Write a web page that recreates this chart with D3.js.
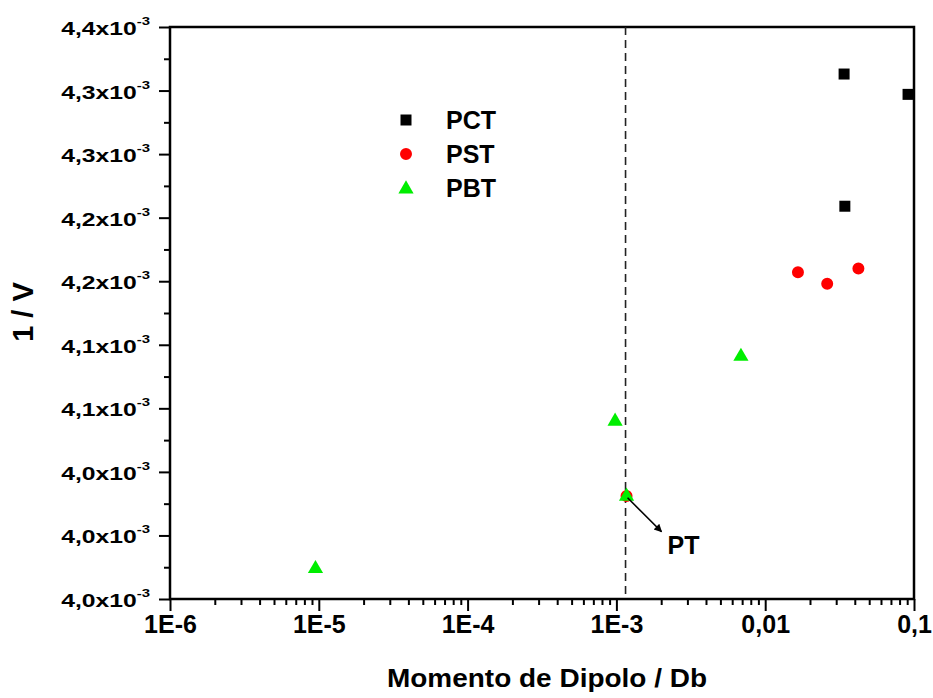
<!DOCTYPE html>
<html>
<head>
<meta charset="utf-8">
<script src="https://cdn.jsdelivr.net/npm/d3@7"></script>
<style>
  html, body { margin: 0; padding: 0; background: #fff; }
  svg { display: block; font-family: "Liberation Sans", Arial, sans-serif; font-weight: bold; }
</style>
</head>
<body>
<svg id="chart" width="933" height="698"></svg>
<script>
// ---- data ----
const seriesNames = ["PCT", "PST", "PBT"];
const seriesColors = ["#000000", "#ff0000", "#00ee00"];
const pctX = [0.0339, 0.0912, 0.0343];
const pctY = [4.363e-3, 4.347e-3, 4.259e-3];
const pstX = [0.00117, 0.0166, 0.0261, 0.0423];
const pstY = [4.031e-3, 4.207e-3, 4.198e-3, 4.210e-3];
const pbtX = [9.5e-6, 0.00098, 0.00117, 0.00687];
const pbtY = [3.975e-3, 4.091e-3, 4.032e-3, 4.142e-3];
const ptX = 0.00117;           // reference point PT
const ptY = 4.032e-3;
const xTickValues = [1e-6, 1e-5, 1e-4, 1e-3, 0.01, 0.1];
const xTickLabels = ["1E-6", "1E-5", "1E-4", "1E-3", "0,01", "0,1"];
const yTickValues = [3.95e-3, 4.00e-3, 4.05e-3, 4.10e-3, 4.15e-3, 4.20e-3, 4.25e-3, 4.30e-3, 4.35e-3, 4.40e-3];
const yTickLabels = ["4,0", "4,0", "4,0", "4,1", "4,1", "4,2", "4,2", "4,3", "4,3", "4,4"];
const yMinorValues = [3.975e-3, 4.025e-3, 4.075e-3, 4.125e-3, 4.175e-3, 4.225e-3, 4.275e-3, 4.325e-3, 4.375e-3];
const xTitle = "Momento de Dipolo / Db";
const yTitle = "1 / V";

// ---- layout ----
const svg = d3.select("#chart");
const L = 170, R = 914, T = 27, B = 599;
const x = d3.scaleLog().domain([1e-6, 0.1]).range([L, R]);
const y = d3.scaleLinear().domain([3.95e-3, 4.40e-3]).range([B, T]);

// x minor ticks (2..9 per decade)
const xMinor = [];
for (let e = -6; e < -1; e++) for (let k = 2; k <= 9; k++) xMinor.push(k * Math.pow(10, e));

// minor ticks
svg.append("g").attr("transform", `translate(0,${B})`)
  .call(d3.axisBottom(x).tickValues(xMinor).tickSize(6).tickFormat(""))
  .call(g => g.select(".domain").remove())
  .selectAll("line").attr("stroke", "#000").attr("stroke-width", 2);
svg.append("g").attr("transform", `translate(${L},0)`)
  .call(d3.axisLeft(y).tickValues(yMinorValues).tickSize(6).tickFormat(""))
  .call(g => g.select(".domain").remove())
  .selectAll("line").attr("stroke", "#000").attr("stroke-width", 2);

// major x axis
const gx = svg.append("g").attr("transform", `translate(0,${B})`)
  .call(d3.axisBottom(x).tickValues(xTickValues).tickSize(12)
    .tickFormat((d, i) => xTickLabels[i]));
gx.select(".domain").remove();
gx.selectAll("line").attr("stroke", "#000").attr("stroke-width", 2);
gx.selectAll("text").attr("fill", "#000").attr("font-size", 25).attr("font-weight", "bold")
  .attr("font-family", "Liberation Sans, Arial, sans-serif").attr("y", 16).attr("dy", "0.71em");

// major y axis
const gy = svg.append("g").attr("transform", `translate(${L},0)`)
  .call(d3.axisLeft(y).tickValues(yTickValues).tickSize(11).tickFormat(""));
gy.select(".domain").remove();
gy.selectAll("line").attr("stroke", "#000").attr("stroke-width", 2);

// y tick labels with superscript
const yl = svg.append("g");
yTickValues.forEach((v, i) => {
  const g = yl.append("g").attr("transform", `translate(${L - 20},${y(v) + 8}) scale(1.3,1)`);
  const t = g.append("text").attr("text-anchor", "end").attr("font-size", 19).attr("fill", "#000");
  t.append("tspan").text(yTickLabels[i] + "x10");
  t.append("tspan").attr("font-size", 11.5).attr("dy", -10).text("-3");
});

// frame
svg.append("rect").attr("x", L).attr("y", T).attr("width", R - L).attr("height", B - T)
  .attr("fill", "none").attr("stroke", "#000").attr("stroke-width", 2.5);

// dashed reference line
svg.append("line").attr("x1", x(ptX) - 1).attr("x2", x(ptX) - 1).attr("y1", T).attr("y2", B)
  .attr("stroke", "#222").attr("stroke-width", 1.6).attr("stroke-dasharray", "8,5");

// markers
const sym = [d3.symbolSquare, d3.symbolCircle, d3.symbolTriangle];
const symSize = [121, 113, 100];
const data = [
  pctX.map((d, i) => ({ x: d, y: pctY[i] })),
  pstX.map((d, i) => ({ x: d, y: pstY[i] })),
  pbtX.map((d, i) => ({ x: d, y: pbtY[i] }))
];
data.forEach((arr, s) => {
  svg.append("g").selectAll("path").data(arr).join("path")
    .attr("d", d3.symbol().type(sym[s]).size(symSize[s]))
    .attr("transform", d => `translate(${x(d.x)},${y(d.y) + (s === 2 ? 1.5 : 0)})`)
    .attr("fill", seriesColors[s]);
});

// PT annotation arrow
const defs = svg.append("defs");
defs.append("marker").attr("id", "arr").attr("viewBox", "0 0 10 10").attr("refX", 9).attr("refY", 5)
  .attr("markerWidth", 13).attr("markerHeight", 8).attr("markerUnits", "userSpaceOnUse").attr("orient", "auto")
  .append("path").attr("d", "M0,0 L10,5 L0,10 Z").attr("fill", "#000");
const px = x(ptX), py = y(ptY);
svg.append("line").attr("x1", px + 1).attr("y1", py + 3).attr("x2", px + 35).attr("y2", py + 37)
  .attr("stroke", "#000").attr("stroke-width", 1.6).attr("marker-end", "url(#arr)");
svg.append("text").attr("x", px + 41).attr("y", py + 59).attr("font-size", 25).attr("fill", "#000").text("PT");

// legend
const lx = 406, ly = [120, 154, 188];
seriesNames.forEach((n, i) => {
  svg.append("path").attr("d", d3.symbol().type(sym[i]).size(symSize[i]))
    .attr("transform", `translate(${lx},${ly[i] + (i === 2 ? 1 : 0)})`).attr("fill", seriesColors[i]);
  svg.append("text").attr("x", lx + 40).attr("y", ly[i] + 9).attr("font-size", 25)
    .attr("fill", "#000").text(n);
});

// axis titles
svg.append("text").attr("x", 547).attr("y", 687).attr("text-anchor", "middle")
  .attr("font-size", 25).attr("textLength", 320).attr("lengthAdjust", "spacingAndGlyphs")
  .attr("fill", "#000").text(xTitle);
svg.append("text").attr("transform", "translate(33,312) rotate(-90)").attr("text-anchor", "middle")
  .attr("font-size", 29).attr("fill", "#000").text(yTitle);
</script>
</body>
</html>
